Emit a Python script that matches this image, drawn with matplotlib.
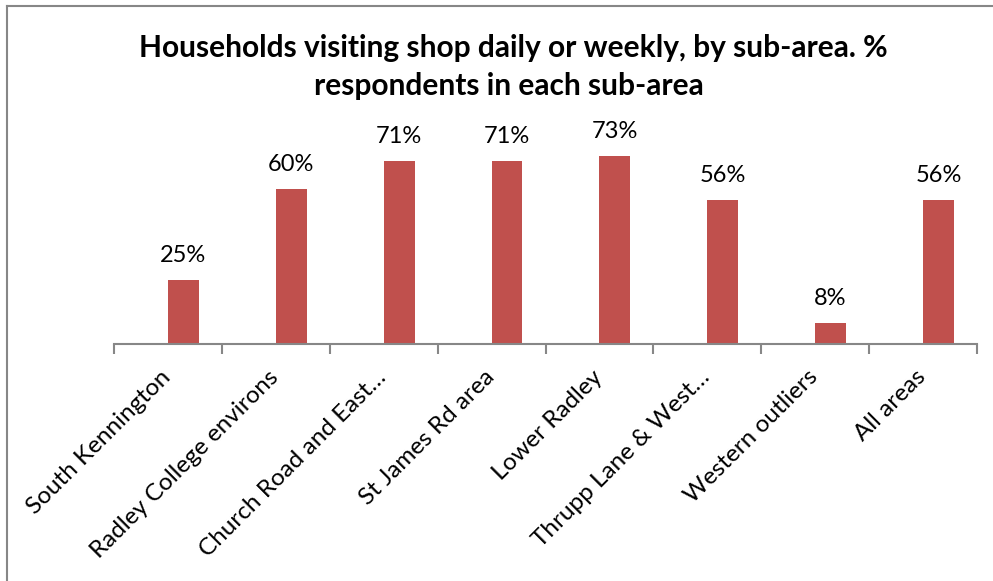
import matplotlib
matplotlib.use("Agg")
import matplotlib.pyplot as plt
import matplotlib.transforms as mtransforms
from matplotlib.lines import Line2D

categories = ["South Kennington", "Radley College environs", "Church Road and East\u2026",
              "St James Rd area", "Lower Radley", "Thrupp Lane & West\u2026",
              "Western outliers", "All areas"]
values = [25, 60, 71, 71, 73, 56, 8, 56]
value_labels = ["25%", "60%", "71%", "71%", "73%", "56%", "8%", "56%"]
title_lines = ["Households visiting shop daily or weekly, by sub-area. %",
               "respondents in each sub-area"]

plt.rcParams['font.family'] = ['Lato', 'DejaVu Sans']

W, H = 993, 581
fig = plt.figure(figsize=(W / 100, H / 100), dpi=100)
fig.patch.set_facecolor("white")

# outer chart frame (top and left visible)
fx0, fy0 = 7 / W, 1 - 6 / H
fig.add_artist(Line2D([fx0, 1.01], [fy0, fy0], transform=fig.transFigure, color="#878787", lw=1.5))
fig.add_artist(Line2D([fx0, fx0], [fy0, -0.01], transform=fig.transFigure, color="#878787", lw=1.5))

ax = fig.add_axes([114 / W, 1 - 344 / H, 863 / W, (344 - 138) / H])
n = len(categories)
bw = 1 / 3.5
xs = [i + 0.5 for i in range(n)]
bars = ax.bar(xs, values, width=bw, align="edge", color="#C0504D", edgecolor="none")
for x, v, lab in zip(xs, values, value_labels):
    ax.text(x + bw / 2, v + 7, lab, ha="center", va="baseline", fontsize=17, color="#000000")

ax.set_xlim(0, n)
ax.set_ylim(0, 80)
ax.set_yticks([])
for s in ["top", "right", "left"]:
    ax.spines[s].set_visible(False)
ax.spines["bottom"].set_color("#878787")
ax.spines["bottom"].set_linewidth(1.5)

ax.set_xticks(range(n + 1))
ax.set_xticklabels([])
ax.tick_params(axis="x", which="major", direction="out", length=7, width=1.5, color="#878787")
ax.set_xticks([i + 0.5 for i in range(n)], minor=True)
ax.set_xticklabels(categories, minor=True, rotation=45, ha="right", va="top",
                   rotation_mode="anchor", fontsize=17.5)
ax.tick_params(axis="x", which="minor", length=0, pad=16)
shift = mtransforms.ScaledTranslation(-8 / 100, 0, fig.dpi_scale_trans)
for lab in ax.get_xticklabels(minor=True):
    lab.set_transform(lab.get_transform() + shift)

fig.text(513 / W, 1 - 57 / H, title_lines[0], ha="center", va="baseline", fontsize=21.5,
         fontweight="bold")
fig.text(509 / W, 1 - 95 / H, title_lines[1], ha="center", va="baseline", fontsize=21.5,
         fontweight="bold")

fig.savefig("out.png", dpi=100, facecolor="white")
